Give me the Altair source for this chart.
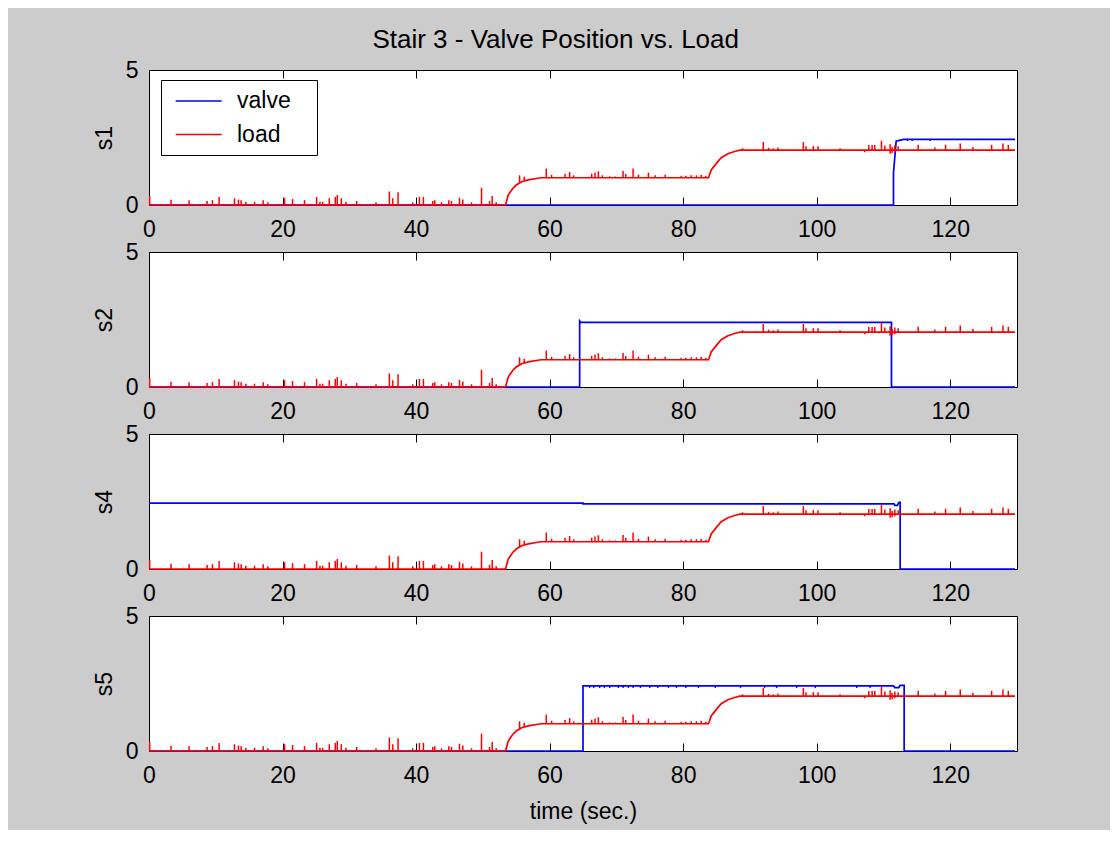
import altair as alt
import pandas as pd

FONT = "Liberation Sans"

# ---------------- data ----------------
panels = ["s1", "s2", "s4", "s5"]
x_ticks = [0, 20, 40, 60, 80, 100, 120]
y_ticks = [0, 5]
series_names = ["valve", "load"]
series_colors = ["#0000ff", "#ff0000"]
title_text = "Stair 3 - Valve Position vs. Load"
x_title = "time (sec.)"

# load signal (same in every panel): baseline key points
load_t = [0, 53.4, 53.8, 54.5, 55.0, 55.8, 56.8, 58.7, 83.8, 84.2, 85.0, 85.7, 86.7, 87.7, 88.5, 129.7]
load_v = [0, 0, 0.37, 0.62, 0.74, 0.86, 0.93, 1.01, 1.01, 1.30, 1.55, 1.75, 1.90, 1.98, 2.03, 2.03]

# load spikes: time, foot value, tip value
spike_t = [0.1, 3.3, 6.0, 8.7, 9.5, 10.5, 12.8, 13.4, 13.8, 14.5, 15.8, 17.1, 17.8, 20.3, 21.5,
           23.3, 25.1, 25.6, 26.0, 27.0, 27.9, 28.2, 28.8, 29.5, 31.1, 34.0, 36.0, 36.5, 37.3,
           39.5, 40.5, 41.1, 42.5, 42.8, 43.8, 44.9, 45.3, 46.5, 47.0, 48.3, 49.8, 51.0, 51.4, 52.0,
           55.5, 56.2, 59.5, 60.3, 62.3, 63.0, 63.6, 66.3, 66.8, 67.3, 67.9, 69.0, 69.8, 71.0, 71.4,
           72.5, 73.3, 74.8, 75.8, 77.3, 79.7, 80.4, 81.2, 82.0, 82.7, 83.4,
           88.9, 92.0, 92.8, 93.5, 94.2, 98.0, 98.4, 99.5, 100.2, 103.5, 107.2, 107.8, 108.3, 108.7,
           109.7, 110.2, 111.0, 111.3, 111.7, 112.2, 115.2, 117.7, 119.3, 121.5, 123.4, 126.2,
           127.9, 128.7]
spike_lo = [0] * 44 + [0.80, 0.90] + [1.01] * 24 + [2.03] * 10 + [1.95] + [2.03] * 5 + [1.90, 1.92, 1.95] + [2.03] * 9
spike_hi = [0.33, 0.19, 0.18, 0.15, 0.18, 0.30, 0.25, 0.20, 0.18, 0.12, 0.12, 0.18, 0.10, 0.25, 0.22,
            0.18, 0.30, 0.12, 0.12, 0.25, 0.30, 0.37, 0.25, 0.12, 0.15, 0.10, 0.50, 0.25, 0.47,
            0.10, 0.30, 0.30, 0.15, 0.18, 0.10, 0.18, 0.15, 0.27, 0.20, 0.10, 0.64, 0.15, 0.33, 0.10,
            1.10, 1.05, 1.35, 1.12, 1.15, 1.22, 1.10, 1.16, 1.20, 1.25, 1.10, 1.06, 1.06, 1.26, 1.15,
            1.35, 1.12, 1.20, 1.10, 1.12, 1.08, 1.08, 1.10, 1.10, 1.12, 1.08,
            2.10, 2.33, 2.12, 2.10, 2.13, 2.33, 2.18, 2.18, 2.18, 2.10, 2.03, 2.22, 2.22, 2.22,
            2.38, 2.20, 2.25, 2.15, 2.20, 2.18, 2.23, 2.13, 2.23, 2.28, 2.15, 2.23,
            2.28, 2.23]

# valve positions per panel
valve_t = {
    "s1": [0, 111.5, 111.5, 111.9, 113.0, 129.7],
    "s2": [0, 64.5, 64.5, 64.7, 111.2, 111.2, 129.7],
    "s4": [0, 65.0, 65.0, 111.6, 111.7, 112.1, 112.3, 112.5, 112.5, 129.7],
    "s5": [0, 65.0, 65.0, 111.5, 111.7, 112.3, 112.5, 113.1, 113.1, 129.7],
}
valve_v = {
    "s1": [0, 0, 1.18, 2.36, 2.43, 2.43],
    "s2": [0, 0, 2.45, 2.39, 2.39, 0, 0],
    "s4": [2.44, 2.44, 2.41, 2.41, 2.36, 2.36, 2.47, 2.47, 0, 0],
    "s5": [0, 0, 2.41, 2.41, 2.35, 2.35, 2.43, 2.43, 0, 0],
}
# small dips on the valve signal: time, low, high
valve_dip_t = {
    "s1": [113.6, 114.3, 117.0],
    "s5": [66.0, 66.6, 67.5, 68.2, 69.0, 70.3, 71.0, 71.8, 72.5, 73.6, 75.0, 76.2, 77.8,
           79.0, 80.4, 82.3, 84.8, 88.6, 92.2, 94.0, 97.0, 99.8, 106.0, 108.0],
}
valve_dip_lo = {"s1": 2.37, "s5": 2.33}
valve_dip_hi = {"s1": 2.43, "s5": 2.41}

# ---------------- tables ----------------
def line_table(p):
    vdf = pd.DataFrame([{"series": "valve", "idx": i, "t": t, "v": v}
                        for i, (t, v) in enumerate(zip(valve_t[p], valve_v[p]))])
    ldf = pd.DataFrame([{"series": "load", "idx": i, "t": t, "v": v}
                        for i, (t, v) in enumerate(zip(load_t, load_v))])
    return vdf, ldf


def spike_tables(p):
    vrows = [{"series": "valve", "t": t, "lo": valve_dip_lo[p], "hi": valve_dip_hi[p]}
             for t in valve_dip_t.get(p, [])]
    lrows = [{"series": "load", "t": t, "lo": lo, "hi": hi}
             for t, lo, hi in zip(spike_t, spike_lo, spike_hi)]
    return pd.DataFrame(vrows), pd.DataFrame(lrows)


legend = alt.Legend(
    orient="none", legendX=12, legendY=10, title=None,
    labelFont=FONT, labelFontSize=23, labelColor="black",
    labelOffset=42.5, labelExpr="datum.label + '\u2800'",
    symbolType="M-0.55,0H3.45", symbolSize=529, symbolStrokeWidth=1.5,
    padding=8.5, rowPadding=8.5, fillColor="white", strokeColor="black",
)
color = alt.Color("series:N", scale=alt.Scale(domain=series_names, range=series_colors),
                  legend=legend)

xscale = alt.Scale(domain=[0, 130], nice=False, zero=False)
yscale = alt.Scale(domain=[0, 5], nice=False, zero=False)

W, H = 868, 135
LW = 1.7


def make_panel(p, last):
    vdf, ldf = line_table(p)
    vsp, lsp = spike_tables(p)

    x_bottom_axis = dict(orient="bottom", values=x_ticks, offset=-8, tickSize=8, tickColor="black",
                         domain=False, grid=False, labelPadding=13, labelFont=FONT,
                         labelFontSize=23, labelColor="black", labelFlush=False,
                         labelOverlap=False)
    if last:
        x_bottom_axis.update(titleFont=FONT, titleFontSize=23, titleFontWeight="normal",
                             titleColor="black", titleY=57, titleBaseline="top")
    xb = alt.X("t:Q", scale=xscale, axis=alt.Axis(**x_bottom_axis),
               title=x_title if last else None)
    xt = alt.X("t:Q", scale=xscale, title=None,
               axis=alt.Axis(orient="top", values=x_ticks, offset=-8, tickSize=8,
                             tickColor="black", domain=False, grid=False, labels=False))
    xn = alt.X("t:Q", scale=xscale, axis=None)
    yl = alt.Y("v:Q", scale=yscale, title=p,
               axis=alt.Axis(values=y_ticks, ticks=False, tickSize=0, domain=False, grid=False,
                             labelPadding=11, labelFont=FONT, labelFontSize=23,
                             labelColor="black", titleFont=FONT, titleFontSize=23,
                             titleFontWeight="normal", titleColor="black", titleX=-45,
                             titleY=H / 2, titleBaseline="middle", titleAngle=270))
    yn = alt.Y("v:Q", scale=yscale, axis=None)

    blue = alt.Chart(vdf).mark_line(strokeWidth=LW).encode(
        x=xb, y=yl, color=color, order=alt.Order("idx:Q"))
    red = alt.Chart(ldf).mark_line(strokeWidth=LW).encode(
        x=xt, y=yn, color=color, order=alt.Order("idx:Q"))
    red_sp = alt.Chart(lsp).mark_rule(strokeWidth=1.5).encode(
        x=xn, y=alt.Y("lo:Q", scale=yscale, axis=None), y2="hi:Q", color=color)
    layers = [blue]
    if len(vsp):
        blue_sp = alt.Chart(vsp).mark_rule(strokeWidth=1.4).encode(
            x=xn, y=alt.Y("lo:Q", scale=yscale, axis=None), y2="hi:Q", color=color)
        layers.append(blue_sp)
    layers += [red, red_sp]
    return alt.layer(*layers).resolve_axis(x="independent", y="independent").properties(
        width=W, height=H)


charts = [make_panel(p, i == len(panels) - 1) for i, p in enumerate(panels)]

chart = alt.vconcat(*charts, spacing=47, bounds="flush").properties(
    title=alt.TitleParams(title_text, font=FONT, fontSize=26, fontWeight="normal",
                          color="black", anchor="middle", offset=6),
    background="#cccccc",
    padding={"left": 84, "top": 18, "right": 91, "bottom": 6},
).configure_view(fill="white", stroke="black", strokeWidth=1)

chart.save("out.html", embed_options={"renderer": "svg", "actions": False})
